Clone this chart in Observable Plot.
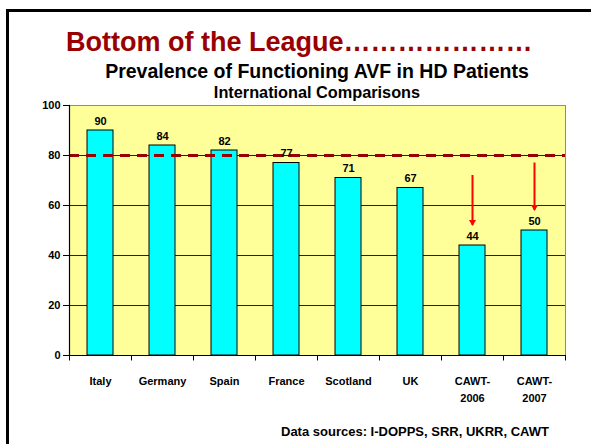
<!DOCTYPE html>
<html>
<head>
<meta charset="utf-8">
<script src="https://cdn.jsdelivr.net/npm/d3@7"></script>
<script src="https://cdn.jsdelivr.net/npm/@observablehq/plot@0.6"></script>
<style>
  html, body { margin: 0; padding: 0; background: #fff; }
  #page { position: relative; width: 591px; height: 444px; overflow: hidden; font-family: "Liberation Sans", Arial, sans-serif; font-weight: bold; }
  #border { position: absolute; left: 6px; top: 9px; width: 700px; height: 600px; border-left: 3px solid #000; border-top: 3px solid #000; }
  .t { position: absolute; line-height: 1; white-space: nowrap; }
  #title { left: 66px; top: 29px; font-size: 27px; color: #990000; }
  #sub { left: 69px; width: 496px; text-align: center; top: 62px; font-size: 19.5px; color: #000; }
  #subsub { left: 69px; width: 496px; text-align: center; top: 84px; font-size: 16.3px; color: #000; }
  #caption { right: 42px; top: 425px; font-size: 13px; color: #000; }
  #chart { position: absolute; left: 0; top: 95px; }
</style>
</head>
<body>
<div id="page">
  <div id="border"></div>
  <div class="t" id="title">Bottom of the League…………………</div>
  <div class="t" id="sub">Prevalence of Functioning AVF in HD Patients</div>
  <div class="t" id="subsub">International Comparisons</div>
  <div id="chart"></div>
  <div class="t" id="caption">Data sources: I-DOPPS, SRR, UKRR, CAWT</div>
</div>
<script>
const categories = ["Italy", "Germany", "Spain", "France", "Scotland", "UK", "CAWT-2006", "CAWT-2007"];
const tickLabels = ["Italy", "Germany", "Spain", "France", "Scotland", "UK", "CAWT-\n2006", "CAWT-\n2007"];
const values = [90, 84, 82, 77, 71, 67, 44, 50];
const target = 80;
const yTicks = [0, 20, 40, 60, 80, 100];
const gridLines = [20, 40, 60, 80];
const arrowCats = ["CAWT-2006", "CAWT-2007"];
const arrowFrom = [72, 77];
const arrowTo = [52, 58];

const data = categories.map((c, i) => ({cat: c, value: values[i]}));
const arrows = arrowCats.map((c, i) => ({cat: c, from: arrowFrom[i], to: arrowTo[i]}));
const labelOf = new Map(categories.map((c, i) => [c, tickLabels[i]]));

const W = 591, H = 320, ML = 69, MR = 26, MT = 10, MB = 60;
const step = (W - ML - MR) / categories.length;

const chart = Plot.plot({
  width: W,
  height: H,
  marginLeft: ML,
  marginRight: MR,
  marginTop: MT,
  marginBottom: MB,
  style: {fontFamily: "Liberation Sans, Arial, sans-serif", fontSize: "11px", fontWeight: "bold", color: "#000", background: "transparent"},
  x: {domain: categories, paddingInner: 0.58, paddingOuter: 0.29, axis: null},
  y: {domain: [0, 100], axis: null},
  marks: [
    Plot.frame({fill: "#FFFF99", stroke: "#8c8c8c"}),
    Plot.ruleY(gridLines, {stroke: "#222", strokeWidth: 1}),
    Plot.barY(data, {x: "cat", y: "value", fill: "#00FFFF", stroke: "#000", strokeWidth: 1}),
    Plot.ruleY([target], {stroke: "#990000", strokeWidth: 3, strokeDasharray: "10,7"}),
    Plot.text(data, {x: "cat", y: "value", text: d => String(d.value), lineAnchor: "bottom", dy: -6, fill: "#000"}),
    Plot.ruleX(arrows, {x: "cat", y1: "from", y2: "to", stroke: "#FF0000", strokeWidth: 2}),
    Plot.dot(arrows, {x: "cat", y: "to", symbol: "triangle", rotate: 180, r: 2.6, fill: "#FF0000", stroke: null, dy: -3.5}),
    Plot.ruleY([0], {stroke: "#000", strokeWidth: 1.2}),
    Plot.frame({anchor: "left", stroke: "#000", strokeWidth: 1.2}),
    Plot.ruleX(categories, {x: d => d, y1: 0, y2: -2.2, dx: -step / 2, stroke: "#000"}),
    Plot.ruleX([categories[categories.length - 1]], {x: d => d, y1: 0, y2: -2.2, dx: step / 2, stroke: "#000"}),
    Plot.axisY({ticks: yTicks, tickSize: 6, tickPadding: 3, tickFormat: d => String(d), label: null}),
    Plot.axisX({tickSize: 0, tickPadding: 17, tickFormat: d => labelOf.get(d), lineHeight: 1.55, label: null})
  ]
});
document.getElementById("chart").appendChild(chart);
</script>
</body>
</html>
